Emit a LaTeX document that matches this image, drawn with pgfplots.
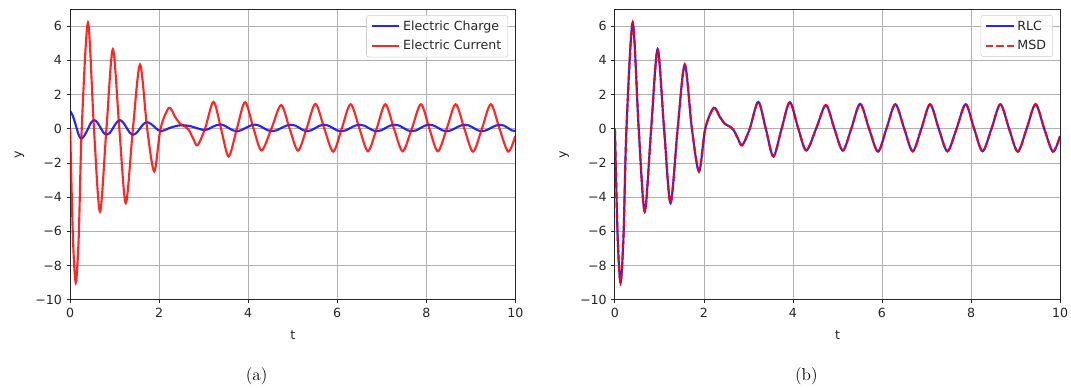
\documentclass[border=0pt]{standalone}
\usepackage{fontspec}
\usepackage{pgfplots}
\pgfplotsset{compat=1.18}
\usepackage{pgfplotstable}
\newfontfamily\dejavu{DejaVu Sans}
\begin{document}
\pgfplotstableread{
t y
0 0
0.063 -6.4
0.127 -9.0
0.193 -6.3
0.26 0
0.40 6.2
0.535 0
0.67 -4.85
0.815 0
0.96 4.65
1.105 0
1.25 -4.35
1.41 0
1.57 3.75
1.73 0
1.89 -2.5
2.03 0
2.22 1.22
2.36 0.68
2.47 0.29
2.57 0.14
2.66 -0.05
2.76 -0.55
2.86 -0.97
3.03 0
3.22 1.57
3.39 0
3.56 -1.62
3.745 0
3.93 1.55
4.12 0
4.30 -1.27
4.52 0
4.74 1.38
4.93 0
5.12 -1.28
5.31 0
5.51 1.45
5.71 0
5.91 -1.34
6.10 0
6.30 1.43
6.50 0
6.69 -1.32
6.885 0
7.08 1.43
7.275 0
7.47 -1.32
7.675 0
7.88 1.43
8.07 0
8.26 -1.32
8.46 0
8.66 1.43
8.855 0
9.05 -1.34
9.25 0
9.45 1.43
9.645 0
9.84 -1.34
10 -0.43
}\currentdata
\pgfplotstableread{
t y
0 1.03
0.06 0.75
0.125 0.22
0.19 -0.35
0.25 -0.58
0.32 -0.4
0.395 -0.04
0.47 0.36
0.54 0.5
0.61 0.37
0.68 0.07
0.75 -0.23
0.82 -0.35
0.895 -0.23
0.97 0.07
1.045 0.37
1.12 0.5
1.19 0.37
1.265 0.07
1.34 -0.23
1.41 -0.35
1.49 -0.25
1.57 0.02
1.65 0.28
1.73 0.38
1.81 0.29
1.89 0.12
1.97 -0.07
2.05 -0.14
2.13 -0.08
2.22 0.03
2.4 0.17
2.55 0.2
2.7 0.15
2.85 0.03
3.0 -0.08
3.09 -0.04
3.185 0.09
3.28 0.2
3.37 0.25
3.46 0.19
3.555 0.05
3.65 -0.09
3.74 -0.14
3.84 -0.09
3.945 0.05
4.05 0.18
4.15 0.24
4.245 0.18
4.34 0.05
4.435 -0.09
4.53 -0.14
4.64 -0.09
4.75 0.05
4.86 0.18
4.97 0.23
5.06 0.18
5.15 0.05
5.24 -0.09
5.33 -0.14
5.42 -0.09
5.515 0.05
5.61 0.18
5.70 0.23
5.80 0.18
5.895 0.05
5.99 -0.09
6.09 -0.14
6.195 -0.09
6.30 0.05
6.405 0.18
6.51 0.23
6.605 0.18
6.70 0.05
6.795 -0.09
6.89 -0.14
6.99 -0.09
7.09 0.05
7.19 0.18
7.29 0.23
7.39 0.18
7.485 0.05
7.58 -0.09
7.68 -0.14
7.78 -0.09
7.875 0.05
7.97 0.18
8.07 0.23
8.17 0.18
8.265 0.05
8.36 -0.09
8.46 -0.14
8.56 -0.09
8.665 0.05
8.77 0.18
8.87 0.23
8.965 0.18
9.06 0.05
9.155 -0.09
9.25 -0.14
9.35 -0.09
9.455 0.05
9.56 0.18
9.66 0.23
9.745 0.18
9.83 0.05
9.915 -0.09
10 -0.13
}\chargedata
\pgfplotsset{
  mystyle/.style={
    width=335.25pt, height=219pt, scale only axis,
    xmin=0, xmax=10, ymin=-10, ymax=7,
    xtick={0,2,4,6,8,10}, xticklabels={0,2,4,6,8,10},
    ytick={-10,-8,-6,-4,-2,0,2,4,6},
    yticklabels={−10,−8,−6,−4,−2,0,2,4,6},
    grid=major, major grid style={color=black!31, line width=0.6pt},
    axis line style={black!85, line width=0.6pt},
    tick align=outside, major tick length=2.6pt,
    tick style={black!85, line width=0.6pt},
    tick pos=left,
    tick label style={font=\dejavu\fontsize{9.5}{11}\selectfont, text=black!85},
    xlabel={t}, ylabel={y},
    every axis x label/.style={at={(axis description cs:0.5,-0.12)}, anchor=center, font=\dejavu\fontsize{9.5}{11}\selectfont, text=black!85},
    every axis y label/.style={at={(axis description cs:-0.114,0.5)}, anchor=center, rotate=90, font=\dejavu\fontsize{9.5}{11}\selectfont, text=black!85},
    legend style={at={(axis description cs:0.984,0.979)}, anchor=north east,
      draw=black!20, rounded corners=2pt, fill=white, fill opacity=0.8, text opacity=1,
      font=\dejavu\fontsize{9.5}{11}\selectfont, text=black!85, row sep=2pt, inner xsep=3pt, inner ysep=2pt},
    legend cell align=left,
    legend image code/.code={\draw[##1] (0pt,0pt) -- (21pt,0pt);},
  }
}
\begin{tikzpicture}
\useasboundingbox (0pt,0pt) rectangle (803.25pt,-291.75pt);
\begin{axis}[mystyle, at={(49.5pt,-225.75pt)}, anchor=south west]
\addplot[blue, opacity=0.85, line width=1.6pt, smooth] table[x=t,y=y] {\chargedata};
\addlegendentry{Electric Charge}
\addplot[red, opacity=0.85, line width=1.6pt, smooth] table[x=t,y=y] {\currentdata};
\addlegendentry{Electric Current}
\end{axis}
\begin{axis}[mystyle, at={(459.75pt,-225.75pt)}, anchor=south west]
\addplot[blue, opacity=0.85, line width=1.6pt, smooth] table[x=t,y=y] {\currentdata};
\addlegendentry{RLC}
\addplot[red, opacity=0.85, line width=1.6pt, smooth, dash pattern=on 5.5pt off 2.4pt] table[x=t,y=y] {\currentdata};
\addlegendentry{MSD}
\end{axis}
\node[font=\fontsize{13}{15}\selectfont] at (190pt,-283.5pt) {(a)};
\node[font=\fontsize{13}{15}\selectfont] at (604pt,-283.5pt) {(b)};
\end{tikzpicture}
\end{document}
